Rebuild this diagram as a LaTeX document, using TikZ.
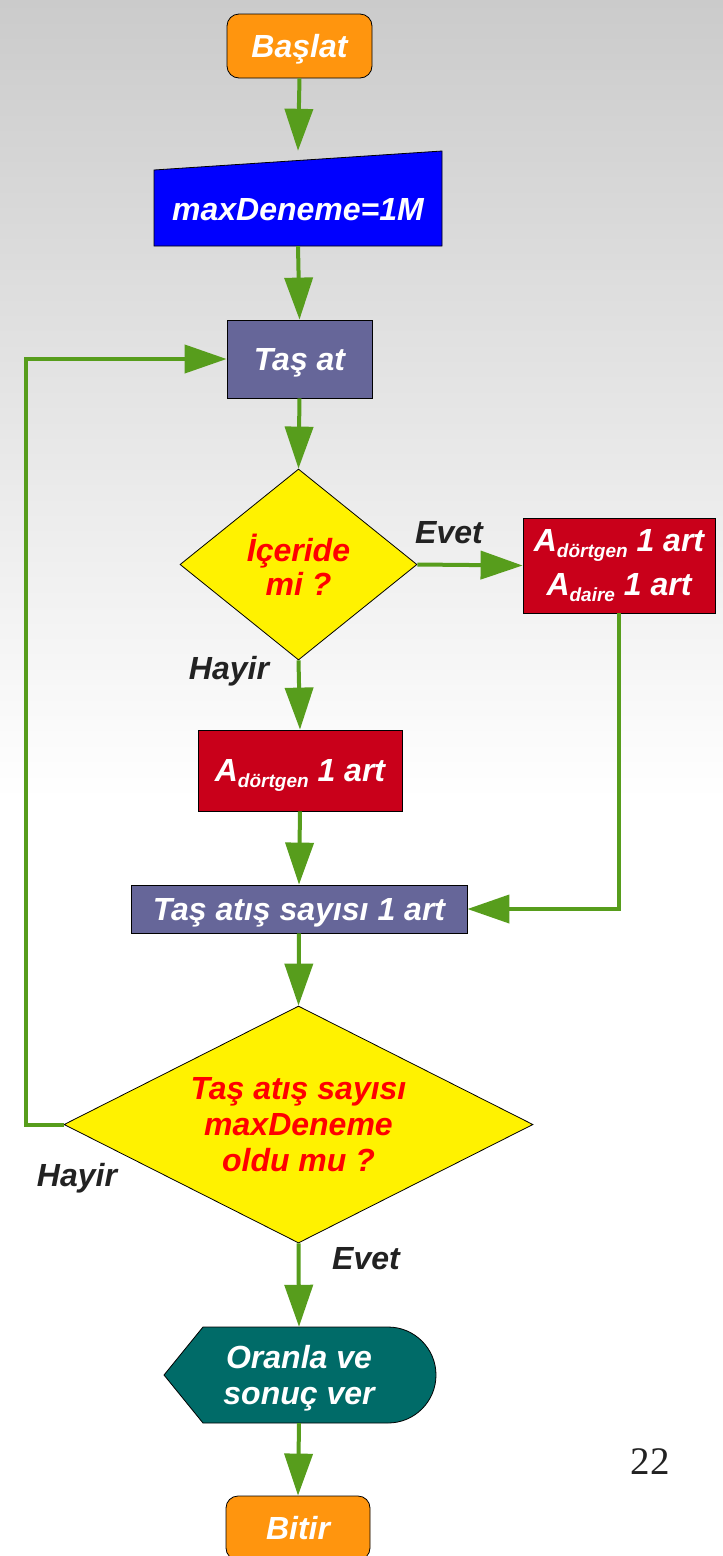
\documentclass[tikz,border=0pt]{standalone}
\usepackage{fontspec}
\setmainfont{Liberation Sans}
\newfontfamily\seriffont{Liberation Serif}
\usetikzlibrary{arrows.meta,shapes.geometric}
\definecolor{bgtop}{HTML}{CBCBCB}
\definecolor{orangeC}{HTML}{FF950E}
\definecolor{purpC}{HTML}{666699}
\definecolor{redC}{HTML}{C9001A}
\definecolor{tealC}{HTML}{006B68}
\definecolor{arrC}{HTML}{579D1C}
\definecolor{labC}{HTML}{222222}
\definecolor{blueC}{HTML}{0000FF}
\definecolor{redT}{HTML}{FF0000}
\newcommand{\sbx}[1]{\raisebox{-6pt}{\fontsize{19}{19}\selectfont #1}}
\begin{document}
\begin{tikzpicture}[x=1pt,y=-1pt,
  font=\fontsize{32}{36}\selectfont\bfseries\itshape,
  box/.style={draw=black, line width=0.8pt, inner sep=0pt, align=center, text=white},
  term/.style={box, fill=orangeC, rounded corners=12pt, minimum width=145pt, minimum height=64pt, text depth=0pt},
  proc/.style={box, fill=purpC, text depth=0pt},
  redbox/.style={box, fill=redC},
  dec/.style={diamond, draw=black, line width=0.8pt, fill=yellow, inner sep=0pt},
  dectext/.style={text=redT, align=center, inner sep=0pt},
  arr/.style={draw=arrC, line width=4pt, -{Triangle[length=42pt,width=28pt]}},
  lab/.style={text=labC, inner sep=0pt, text depth=0pt}]
% background
\useasboundingbox (0,0) rectangle (723,1556);
\shade[top color=bgtop, bottom color=white] (0,0) rectangle (723,800);
\fill[white] (0,799) rectangle (723,1556);

% nodes
\node[term] (start) at (299.5,46) {Başlat};
\fill[blueC, draw=black, line width=0.8pt] (154,246) -- (154,170) -- (442,151) -- (442,246) -- cycle;
\node[inner sep=0pt, minimum width=288pt, minimum height=95pt] (inp) at (298,198.5) {};
\node[inner sep=0pt, text=white, text depth=0pt] (inpt) at (298,209) {maxDeneme=1M};
\node[proc, minimum width=145pt, minimum height=78pt] (tas) at (299.5,359) {Taş at};
\node[dec, minimum width=237pt, minimum height=191pt] (d1) at (298.5,564.5) {};
\node[dectext, font=\fontsize{32}{34}\selectfont\bfseries\itshape] (d1t) at (d1.center) {İçeride\\mi ?};
\node[redbox, minimum width=192pt, minimum height=95pt, font=\fontsize{32}{44}\selectfont\bfseries\itshape] (ab) at (619,565.5)
  {A\sbx{dörtgen} 1 art\\A\sbx{daire} 1 art};
\node[redbox, minimum width=204pt, minimum height=81pt, text depth=0pt] (ad) at (300,770.5)
  {A\sbx{dörtgen} 1 art};
\node[proc, minimum width=336pt, minimum height=48pt] (cnt) at (299,909) {Taş atış sayısı 1 art};
\node[dec, minimum width=469pt, minimum height=237pt] (d2) at (298.5,1124.5) {};
\node[dectext] (d2t) at (d2.center) {Taş atış sayısı\\maxDeneme\\oldu mu ?};
\fill[tealC, draw=black, line width=0.8pt] (164,1375) -- (203,1327) -- (388,1327)
  arc[start angle=90, end angle=-90, radius=48pt] -- (203,1423) -- cycle;
\node[inner sep=0pt, minimum width=200pt, minimum height=96pt, align=center, text=white, text depth=0pt] (out) at (299,1375) {Oranla ve\\sonuç ver};
\node[term, minimum width=144pt] (end) at (298,1528) {Bitir};

% labels
\node[lab] (l1) at (449,532) {Evet};
\node[lab] (l2) at (229,668) {Hayir};
\node[lab] (l3) at (77,1175) {Hayir};
\node[lab] (l4) at (366,1258) {Evet};
\node[text=labC, font=\fontsize{39}{39}\selectfont\seriffont] (pg) at (650,1462) {22};

% connectors
\draw[arr] (start.south) -- (inp.north);
\draw[arr] (inp.south) -- (tas.north);
\draw[arr] (tas.south) -- (d1.north);
\draw[arr] (d1.east) -- (ab.west);
\draw[arr] (d1.south) -- (ad.north);
\draw[arr] (ad.south) -- (cnt.north);
\draw[arr] (ab.south) |- (cnt.east);
\draw[arr] (cnt.south) -- (d2.north);
\draw[arr] (d2.west) -- ++(-38,0) |- (tas.west);
\draw[arr] (d2.south) -- (out.north);
\draw[arr] (out.south) -- (end.north);
\end{tikzpicture}
\end{document}
